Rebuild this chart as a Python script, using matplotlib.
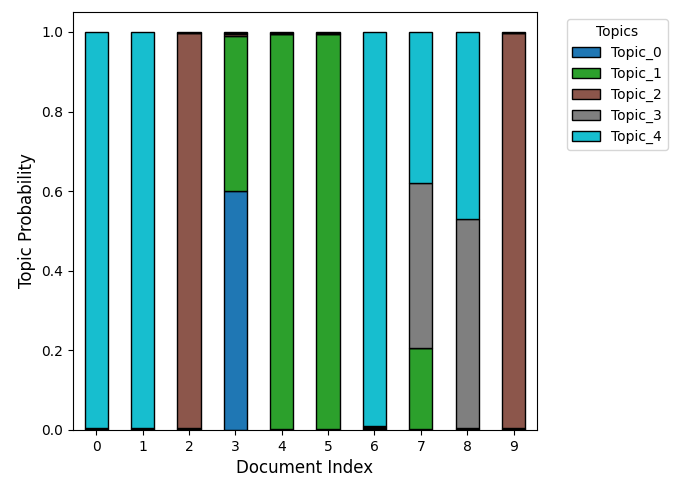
import matplotlib
matplotlib.use("Agg")
import matplotlib.pyplot as plt
import numpy as np

docs = list(range(10))
topics = ["Topic_0", "Topic_1", "Topic_2", "Topic_3", "Topic_4"]
topic_0 = [0.0010, 0.0010, 0.0018, 0.601, 0.0020, 0.0020, 0.0025, 0.0015, 0.0015, 0.0018]
topic_1 = [0.0010, 0.0010, 0.0018, 0.390, 0.9920, 0.9920, 0.0025, 0.2035, 0.0015, 0.0018]
topic_2 = [0.0010, 0.0010, 0.9928, 0.0030, 0.0020, 0.0020, 0.0025, 0.0015, 0.0015, 0.9928]
topic_3 = [0.0010, 0.0010, 0.0018, 0.0030, 0.0020, 0.0020, 0.0025, 0.4150, 0.5255, 0.0018]
topic_4 = [0.9960, 0.9960, 0.0018, 0.0030, 0.0020, 0.0020, 0.9900, 0.3785, 0.4700, 0.0018]
series = [topic_0, topic_1, topic_2, topic_3, topic_4]
colors = ["#1f77b4", "#2ca02c", "#8c564b", "#7f7f7f", "#17becf"]

fig = plt.figure(figsize=(6.76, 4.83), dpi=100)
ax = fig.add_axes([0.108, 0.110, 0.686, 0.865])
bottom = np.zeros(len(docs))
for name, vals, c in zip(topics, series, colors):
    ax.bar(docs, vals, width=0.5, bottom=bottom, color=c, edgecolor="black", label=name)
    bottom += np.array(vals)

ax.set_xlim(-0.5, 9.5)
ax.set_ylim(0, 1.05)
ax.set_xticks(docs)
ax.set_xticklabels([str(d) for d in docs], rotation=0)
ax.set_xlabel("Document Index", fontsize=12)
ax.set_ylabel("Topic Probability", fontsize=12)
ax.legend(title="Topics", bbox_to_anchor=(1.05, 1), loc="upper left")
fig.savefig("out.png", dpi=100)
